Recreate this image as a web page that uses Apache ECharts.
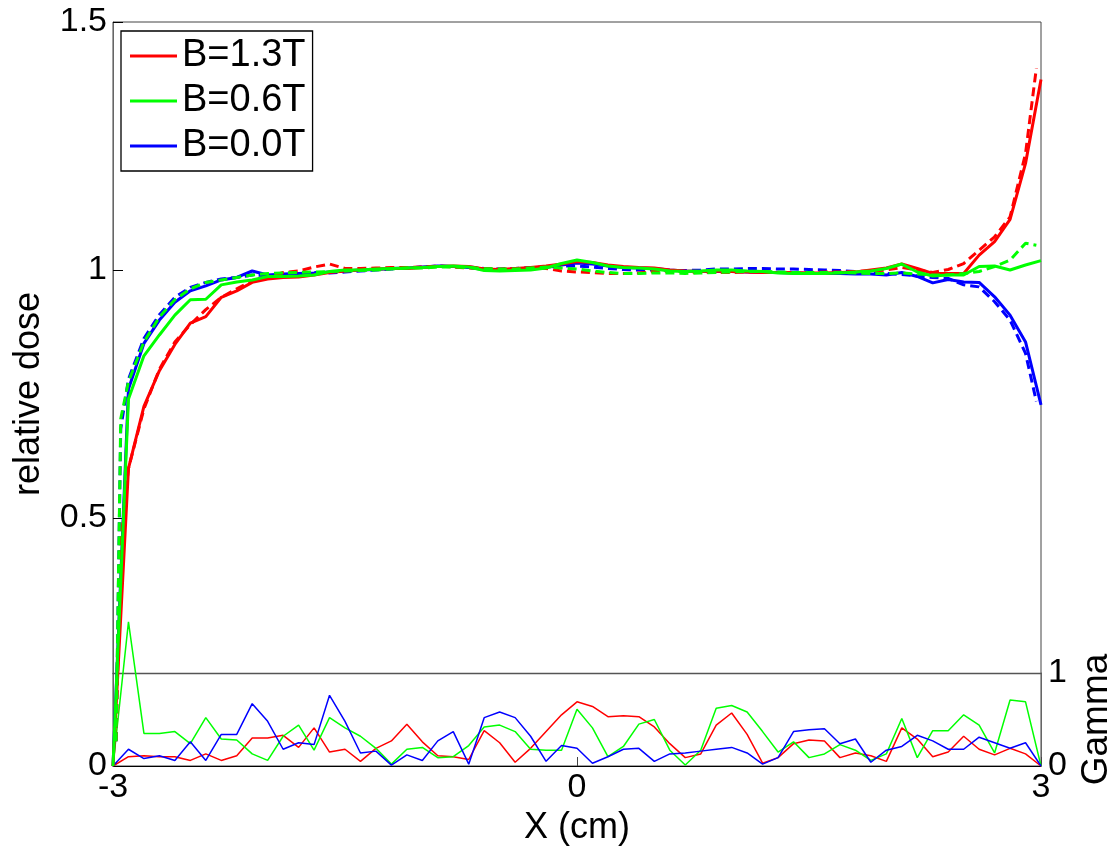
<!DOCTYPE html>
<html>
<head>
<meta charset="utf-8">
<script src="https://cdn.jsdelivr.net/npm/echarts@6/dist/echarts.min.js"></script>
<style>html,body{margin:0;padding:0;background:#fff}#c{width:1109px;height:850px}</style>
</head>
<body>
<div id="c"></div>
<script>
const xTicks = [-3, 0, 3];
const doseTicks = [0, 0.5, 1, 1.5];
const seriesNames = ['B=1.3T', 'B=0.6T', 'B=0.0T'];

const xSim = [-3,-2.9,-2.8,-2.7,-2.6,-2.5,-2.4,-2.3,-2.2,-2.1,-2,-1.9,-1.8,-1.7,-1.6,-1.5,-1.4,-1.3,-1.2,-1.1,-1,-0.9,-0.8,-0.7,-0.6,-0.5,-0.4,-0.3,-0.2,-0.1,0,0.1,0.2,0.3,0.4,0.5,0.6,0.7,0.8,0.9,1,1.1,1.2,1.3,1.4,1.5,1.6,1.7,1.8,1.9,2,2.1,2.2,2.3,2.4,2.5,2.6,2.7,2.8,2.9,3];
const xMeas = [-2.98,-2.95,-2.9,-2.8,-2.7,-2.6,-2.5,-2.4,-2.3,-2.2,-2.1,-2,-1.9,-1.8,-1.7,-1.6,-1.5,-1.4,-1.3,-1.2,-1.1,-1,-0.9,-0.8,-0.7,-0.6,-0.5,-0.4,-0.3,-0.2,-0.1,0,0.1,0.2,0.3,0.4,0.5,0.6,0.7,0.8,0.9,1,1.1,1.2,1.3,1.4,1.5,1.6,1.7,1.8,1.9,2,2.1,2.2,2.3,2.4,2.5,2.6,2.7,2.8,2.9,2.97];

// simulated dose (solid)
const redSim = [0.0,0.60,0.725,0.797,0.850,0.893,0.906,0.945,0.958,0.975,0.982,0.985,0.986,0.990,0.995,0.998,1.000,1.002,1.003,1.003,1.005,1.007,1.008,1.007,1.002,1.001,1.003,1.005,1.008,1.012,1.017,1.015,1.010,1.007,1.005,1.004,1.000,0.998,0.997,0.998,0.997,0.996,0.995,0.995,0.995,0.994,0.994,0.995,0.996,1.000,1.004,1.012,1.003,0.993,0.993,0.993,1.030,1.057,1.102,1.215,1.384];
const greenSim = [0.0,0.74,0.827,0.869,0.909,0.940,0.941,0.970,0.976,0.980,0.987,0.987,0.988,0.990,0.997,1.000,1.000,1.002,1.003,1.004,1.005,1.007,1.008,1.006,0.999,0.998,0.999,1.000,1.004,1.013,1.020,1.015,1.008,1.005,1.004,1.002,0.998,0.997,0.998,1.000,1.000,0.998,0.997,0.994,0.993,0.993,0.993,0.994,0.996,0.998,1.003,1.012,0.996,0.988,0.990,0.990,1.007,1.008,1.000,1.010,1.019];
const blueSim = [0.0,0.76,0.852,0.899,0.935,0.958,0.968,0.980,0.985,0.998,0.990,0.992,0.993,0.994,0.996,0.998,1.000,1.001,1.003,1.004,1.006,1.008,1.007,1.005,1.001,1.000,1.001,1.002,1.005,1.010,1.014,1.012,1.008,1.005,1.004,1.003,1.000,0.998,0.997,0.997,0.997,0.996,0.995,0.995,0.994,0.993,0.993,0.993,0.992,0.992,0.990,0.995,0.987,0.974,0.981,0.976,0.975,0.946,0.909,0.855,0.728];

// measured dose (dashed)
const redMeas = [0.05,0.45,0.60,0.72,0.80,0.855,0.89,0.92,0.945,0.962,0.978,0.985,0.995,0.998,1.006,1.012,1.003,1.003,1.004,1.005,1.005,1.006,1.008,1.006,1.004,1.003,1.002,1.002,1.004,1.003,0.998,0.996,0.995,0.993,0.993,0.994,0.997,0.998,0.996,0.995,0.995,0.995,0.996,0.996,0.995,0.995,0.995,0.996,0.996,0.997,0.998,1.000,1.005,1.000,0.995,1.001,1.013,1.040,1.067,1.107,1.235,1.407];
const greenMeas = [0.05,0.70,0.775,0.855,0.905,0.94,0.962,0.975,0.98,0.985,0.99,0.993,0.994,0.995,0.996,0.997,0.998,0.999,1.000,1.002,1.004,1.004,1.006,1.006,1.005,1.003,1.002,1.002,1.004,1.006,1.004,1.002,0.998,0.995,0.993,0.993,0.994,0.994,0.993,0.994,0.995,0.996,0.997,0.997,0.996,0.995,0.995,0.995,0.995,0.994,0.993,0.993,0.994,0.992,0.990,0.990,0.993,0.997,1.007,1.020,1.054,1.050];
const blueMeas = [0.05,0.68,0.78,0.862,0.91,0.945,0.965,0.975,0.982,0.985,0.990,0.988,0.990,0.992,0.995,0.994,0.996,0.998,1.000,1.002,1.004,1.006,1.008,1.007,1.006,1.003,1.002,1.003,1.005,1.006,1.008,1.008,1.006,1.003,1.001,1.000,1.000,0.999,0.999,1.000,1.002,1.002,1.003,1.003,1.002,1.002,1.001,1.000,0.999,0.997,0.995,0.993,0.991,0.988,0.985,0.983,0.970,0.966,0.936,0.899,0.832,0.735];

// gamma index (thin lines, right axis)
const redGamma = [0,0.10,0.11,0.10,0.10,0.06,0.13,0.06,0.11,0.30,0.30,0.33,0.20,0.41,0.15,0.18,0.05,0.19,0.27,0.45,0.26,0.11,0.10,0.07,0.38,0.25,0.04,0.19,0.37,0.55,0.69,0.64,0.53,0.54,0.53,0.42,0.24,0.09,0.13,0.44,0.57,0.34,0.03,0.09,0.24,0.28,0.27,0.09,0.14,0.11,0.05,0.41,0.29,0.10,0.15,0.32,0.18,0.12,0.19,0.13,0];
const greenGamma = [0,1.55,0.35,0.35,0.37,0.24,0.52,0.29,0.28,0.13,0.06,0.32,0.44,0.17,0.52,0.41,0.32,0.19,0.02,0.18,0.20,0.09,0.10,0.22,0.42,0.44,0.37,0.18,0.17,0.17,0.61,0.41,0.10,0.21,0.45,0.50,0.17,0.01,0.17,0.62,0.65,0.58,0.37,0.15,0.26,0.09,0.13,0.23,0.17,0.06,0.13,0.51,0.09,0.38,0.38,0.55,0.44,0.14,0.71,0.69,0];
const blueGamma = [0,0.18,0.08,0.11,0.06,0.26,0.06,0.34,0.34,0.67,0.48,0.18,0.25,0.23,0.76,0.48,0.14,0.16,0.01,0.12,0.06,0.27,0.37,0.02,0.52,0.58,0.52,0.32,0.05,0.22,0.19,0.03,0.10,0.18,0.19,0.05,0.13,0.14,0.16,0.18,0.20,0.14,0.02,0.09,0.37,0.39,0.40,0.24,0.29,0.04,0.17,0.21,0.33,0.27,0.18,0.18,0.31,0.25,0.19,0.25,0];

const RED = '#ff0000', GREEN = '#00ff00', BLUE = '#0000ff';
const FONT = 'Liberation Sans, Arial, Helvetica, sans-serif';
const zip = (xs, ys) => ys.map((y, i) => [xs[i], y]);

function doseSeries(name, xs, ys, color, dashed, z) {
  return {
    name: name, type: 'line', xAxisIndex: 0, yAxisIndex: 0,
    data: zip(xs, ys), showSymbol: false, symbol: 'none', color: color,
    lineStyle: { color: color, width: 3, type: dashed ? [9, 5] : 'solid' },
    z: z, animation: false
  };
}
function gammaSeries(name, ys, color) {
  return {
    name: name, type: 'line', xAxisIndex: 1, yAxisIndex: 1,
    data: zip(xSim, ys), showSymbol: false, symbol: 'none', color: color, clip: false,
    lineStyle: { color: color, width: 1.5 }, z: 1, animation: false
  };
}

const chart = echarts.init(document.getElementById('c'), null, { renderer: 'canvas' });
chart.setOption({
  backgroundColor: '#fff',
  animation: false,
  textStyle: { fontFamily: FONT },
  grid: [
    { left: 113, right: 68, top: 22, bottom: 84, show: true, borderColor: '#444', borderWidth: 1, backgroundColor: 'transparent', containLabel: false, outerBoundsMode: 'none' },
    { left: 113, right: 68, top: 673, bottom: 84, show: false, containLabel: false, outerBoundsMode: 'none' }
  ],
  legend: {
    data: seriesNames, orient: 'vertical', left: 121, top: 31,
    itemWidth: 47, itemHeight: 3, itemGap: 7, icon: 'rect',
    borderColor: '#000', borderWidth: 1.3, padding: [6, 7, 6, 9], backgroundColor: '#fff',
    textStyle: { fontSize: 38, fontFamily: FONT, color: '#000' }
  },
  xAxis: [
    {
      type: 'value', gridIndex: 0, min: -3, max: 3, interval: 3,
      name: 'X (cm)', nameLocation: 'middle', nameGap: 44,
      nameTextStyle: { fontSize: 36, color: '#000', fontFamily: FONT },
      axisLine: { show: true, onZero: false, lineStyle: { color: '#000', width: 1 } },
      axisTick: { show: true, inside: true, length: 9, lineStyle: { color: '#444' } },
      axisLabel: { fontSize: 34, color: '#000', margin: 5, fontFamily: FONT, formatter: v => xTicks.includes(v) ? String(v) : '' },
      splitLine: { show: false }
    },
    {
      type: 'value', gridIndex: 1, min: -3, max: 3, position: 'top',
      axisLine: { show: true, onZero: false, lineStyle: { color: '#555', width: 1.3 } },
      axisTick: { show: false }, axisLabel: { show: false }, splitLine: { show: false }
    }
  ],
  yAxis: [
    {
      type: 'value', gridIndex: 0, min: 0, max: 1.5, interval: 0.5, position: 'left',
      name: 'relative dose', nameLocation: 'middle', nameGap: 66, nameRotate: 90,
      nameTextStyle: { fontSize: 36, color: '#000', fontFamily: FONT },
      axisLine: { show: true, onZero: false, lineStyle: { color: '#666', width: 1 } },
      axisTick: { show: true, inside: true, length: 10, lineStyle: { color: '#000' } },
      axisLabel: { fontSize: 34, color: '#000', margin: 6, fontFamily: FONT, formatter: v => doseTicks.includes(v) ? String(v) : '' },
      splitLine: { show: false }
    },
    {
      type: 'value', gridIndex: 1, min: 0, max: 1, interval: 1, position: 'right',
      name: 'Gamma', nameLocation: 'middle', nameGap: 24, nameRotate: 90,
      nameTextStyle: { fontSize: 37, color: '#000', fontFamily: FONT },
      axisLine: { show: true, onZero: false, lineStyle: { color: '#666', width: 1 } },
      axisTick: { show: false },
      axisLabel: { fontSize: 34, color: '#000', margin: 7, fontFamily: FONT },
      splitLine: { show: false }
    }
  ],
  series: [
    gammaSeries('gamma B=1.3T', redGamma, RED),
    gammaSeries('gamma B=0.6T', greenGamma, GREEN),
    gammaSeries('gamma B=0.0T', blueGamma, BLUE),
    doseSeries('B=0.0T', xSim, blueSim, BLUE, false, 3),
    doseSeries('meas B=0.0T', xMeas, blueMeas, BLUE, true, 4),
    doseSeries('B=1.3T', xSim, redSim, RED, false, 5),
    doseSeries('meas B=1.3T', xMeas, redMeas, RED, true, 6),
    doseSeries('meas B=0.6T', xMeas, greenMeas, GREEN, true, 7),
    doseSeries('B=0.6T', xSim, greenSim, GREEN, false, 8)
  ]
});
</script>
</body>
</html>
